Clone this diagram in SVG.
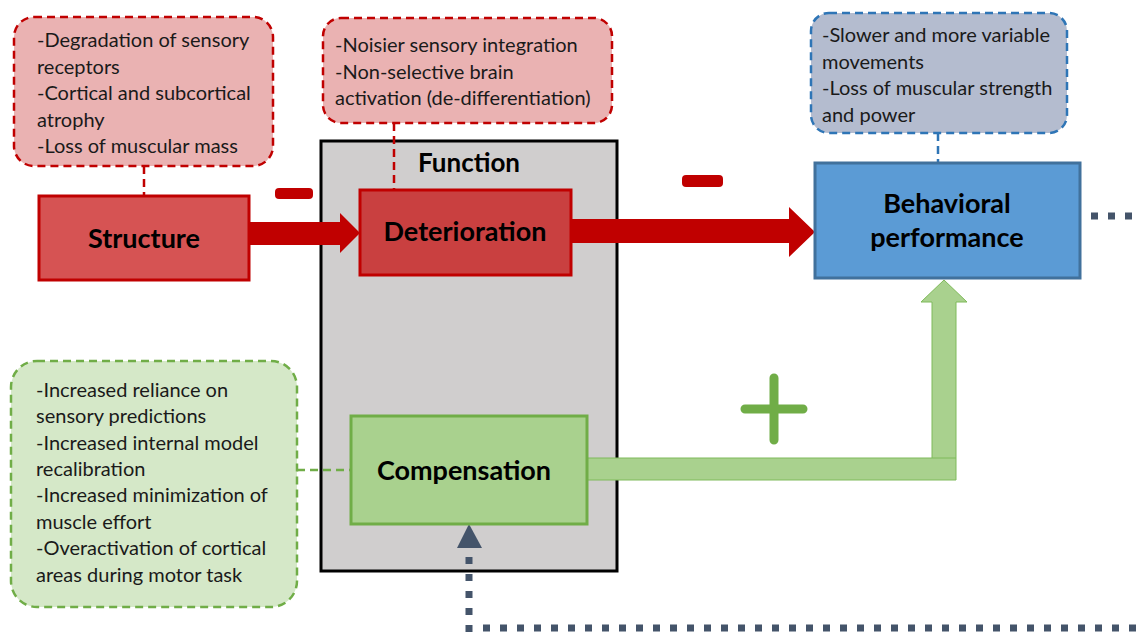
<svg xmlns="http://www.w3.org/2000/svg" width="1137" height="632" viewBox="0 0 1137 632">
<style>
.note{font-family:Lato,"Liberation Sans",sans-serif;font-size:20px;fill:#1a1a1a}
.lbl{font-family:Lato,"Liberation Sans",sans-serif;font-size:27px;font-weight:bold;fill:#000;text-anchor:middle}
.rdash{fill:none;stroke:#c00000;stroke-width:2.5;stroke-dasharray:8 5}
.bdash{fill:none;stroke:#2e75b6;stroke-width:2.5;stroke-dasharray:8 5}
.gdash{fill:none;stroke:#70ad47;stroke-width:2.5;stroke-dasharray:8 5}
.dots{fill:none;stroke:#44546a;stroke-width:7;stroke-dasharray:7 10}
</style>
<rect id="function-box" x="321" y="141" width="296" height="430" fill="#d0cece" stroke="#000" stroke-width="3"/>
<text class="lbl" x="469" y="172" style="font-size:26px">Function</text>

<g id="connectors">
  <line class="rdash" x1="144" y1="166" x2="144" y2="196"/>
  <line class="rdash" x1="394" y1="123" x2="394" y2="190"/>
  <line class="bdash" x1="938" y1="133" x2="938" y2="163"/>
  <line class="gdash" x1="297" y1="470" x2="351" y2="470"/>
  <polygon points="249,222 340,222 340,213 360,233 340,253 340,245 249,245" fill="#c00000"/>
  <polygon points="571,219 789,219 789,207 815,232 789,257 789,243 571,243" fill="#c00000"/>
  <polygon points="587,458 932,458 932,302 921,302 944,280 967,302 956,302 956,480 587,480" fill="#a9d18e" stroke="#7fba5a" stroke-width="1"/>
  <line x1="932" y1="458" x2="956" y2="458" stroke="#7fba5a" stroke-width="1"/>
  <rect x="275" y="188" width="38" height="11" rx="4" fill="#c00000"/>
  <rect x="682" y="175" width="41" height="12" rx="4" fill="#c00000"/>
  <path d="M745,409 H803 M774,378 V440" stroke="#70ad47" stroke-width="9" stroke-linecap="round" fill="none"/>
  <line class="dots" x1="1091" y1="216" x2="1137" y2="216"/>
  <line class="dots" x1="469" y1="557" x2="469" y2="632"/>
  <line class="dots" x1="483" y1="628" x2="1137" y2="628"/>
  <polygon points="469,524 482,548 457,548" fill="#44546a"/>
</g>

<g id="structure-note">
  <rect x="14" y="17" width="259" height="149" rx="20" fill="#eab2b2"/>
  <rect class="rdash" x="14" y="17" width="259" height="149" rx="20"/>
  <text class="note" x="37" y="47">-Degradation of sensory</text>
  <text class="note" x="37" y="74">receptors</text>
  <text class="note" x="37" y="100">-Cortical and subcortical</text>
  <text class="note" x="37" y="127">atrophy</text>
  <text class="note" x="37" y="153">-Loss of muscular mass</text>
</g>

<g id="structure">
  <rect x="39" y="196" width="210" height="84" fill="#d65353" stroke="#c00000" stroke-width="3"/>
  <text class="lbl" x="144" y="248">Structure</text>
</g>

<g id="deterioration-note">
  <rect x="323" y="18" width="289" height="105" rx="18" fill="#eab2b2"/>
  <rect class="rdash" x="323" y="18" width="289" height="105" rx="18"/>
  <text class="note" x="335" y="52">-Noisier sensory integration</text>
  <text class="note" x="335" y="79">-Non-selective brain</text>
  <text class="note" x="335" y="105">activation (de-differentiation)</text>
</g>

<g id="deterioration">
  <rect x="360" y="190" width="211" height="85" fill="#c94040" stroke="#c00000" stroke-width="3"/>
  <text class="lbl" x="465" y="241">Deterioration</text>
</g>

<g id="behavior-note">
  <rect x="811" y="13" width="256" height="120" rx="18" fill="#b4bccf"/>
  <rect class="bdash" x="811" y="13" width="256" height="120" rx="18"/>
  <text class="note" x="822" y="42">-Slower and more variable</text>
  <text class="note" x="822" y="69">movements</text>
  <text class="note" x="822" y="95">-Loss of muscular strength</text>
  <text class="note" x="822" y="122">and power</text>
</g>

<g id="behavioral-performance">
  <rect x="815" y="163" width="265" height="115" fill="#5b9bd5" stroke="#41719c" stroke-width="3"/>
  <text class="lbl" x="947" y="213">Behavioral</text>
  <text class="lbl" x="947" y="247">performance</text>
</g>

<g id="compensation-note">
  <rect x="11" y="361" width="286" height="246" rx="26" fill="#d5e8c8"/>
  <rect class="gdash" x="11" y="361" width="286" height="246" rx="26"/>
  <text class="note" x="36" y="397">-Increased reliance on</text>
  <text class="note" x="36" y="423">sensory predictions</text>
  <text class="note" x="36" y="450">-Increased internal model</text>
  <text class="note" x="36" y="476">recalibration</text>
  <text class="note" x="36" y="502">-Increased minimization of</text>
  <text class="note" x="36" y="529">muscle effort</text>
  <text class="note" x="36" y="555">-Overactivation of cortical</text>
  <text class="note" x="36" y="582">areas during motor task</text>
</g>

<g id="compensation">
  <rect x="351" y="416" width="236" height="108" fill="#a9d18e" stroke="#70ad47" stroke-width="3"/>
  <text class="lbl" x="464" y="480">Compensation</text>
</g>
</svg>
